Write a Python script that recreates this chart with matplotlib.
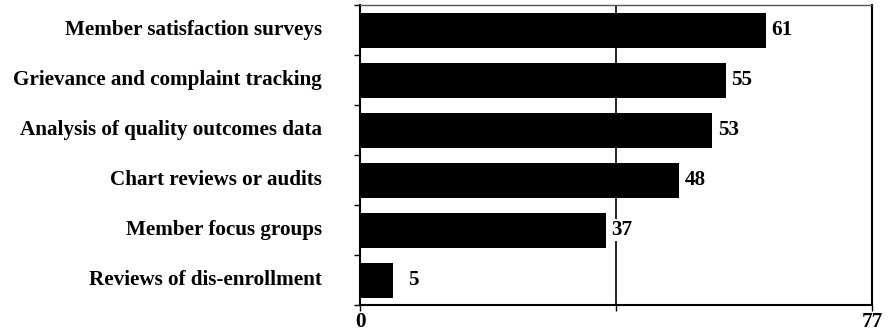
import numpy as np
import matplotlib
matplotlib.use("Agg")
import matplotlib.pyplot as plt

# Quality-monitoring activities and number of plans reporting each one
activities = [
    "Member satisfaction surveys",
    "Grievance and complaint tracking",
    "Analysis of quality outcomes data",
    "Chart reviews or audits",
    "Member focus groups",
    "Reviews of dis-enrollment",
]
counts = [61, 55, 53, 48, 37, 5]
x_max = 77

plt.rcParams['font.family'] = ['Liberation Serif', 'DejaVu Serif']
plt.rcParams['font.weight'] = 'bold'
fs = 15.2

fig = plt.figure(figsize=(8.91, 3.34), dpi=100)
ax = fig.add_axes([360 / 891, 1 - 305 / 334, 512 / 891, 300 / 334])

n = len(activities)
ypos = np.arange(n)
ax.barh(ypos, counts, height=0.7, color="black", zorder=2)

ax.set_xlim(0, x_max)
ax.set_ylim(n - 0.5, -0.5)

# vertical gridline at the midpoint only
ax.axvline(x_max / 2, color="black", lw=1.2, zorder=1)

for y, v in zip(ypos, counts):
    pad = 11 if v < 10 else 4
    ax.annotate(str(v), (v, y), xytext=(pad, 0), textcoords="offset points",
                va="center", ha="left", fontsize=fs, fontweight="bold",
                bbox=dict(facecolor="white", edgecolor="none", pad=1), zorder=3)

# category labels drawn as text so the tick marks can sit on the boundaries
for y, name in zip(ypos, activities):
    ax.text(-0.074, y, name, transform=ax.get_yaxis_transform(),
            ha="right", va="center", fontsize=fs, fontweight="bold")

ax.set_yticks(np.arange(n + 1) - 0.5)
ax.set_yticklabels([])
ax.tick_params(axis="y", direction="out", length=4, width=1)

ax.set_xticks([0, x_max / 2, x_max])
ax.set_xticklabels(["0", "", str(x_max)], fontsize=fs, fontweight="bold")
ax.tick_params(axis="x", direction="out", length=4, width=1, pad=1)

for side in ["left", "bottom", "right"]:
    ax.spines[side].set_linewidth(1.5)
ax.spines["top"].set_linewidth(1.0)
ax.spines["top"].set_color("#555555")

fig.savefig("out.png", dpi=100)
